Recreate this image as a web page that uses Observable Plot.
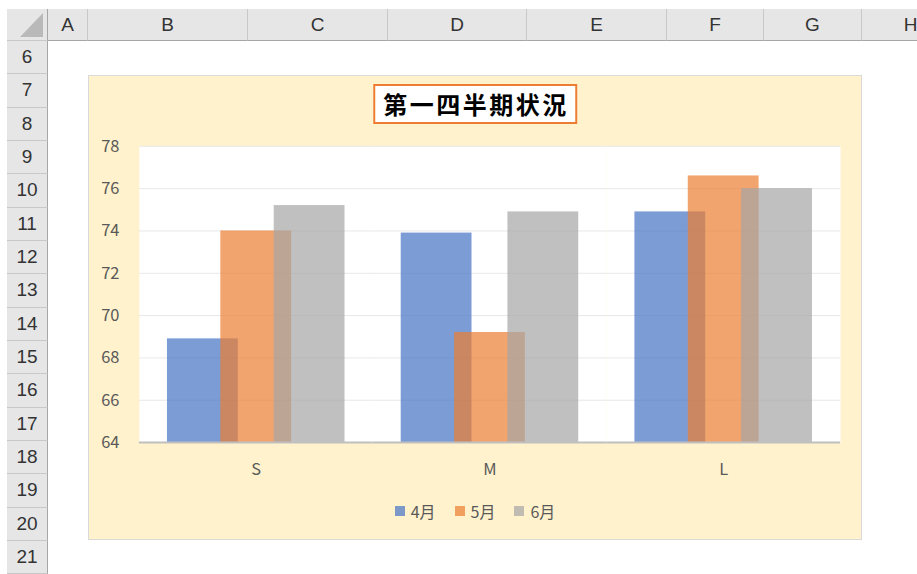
<!DOCTYPE html>
<html>
<head>
<meta charset="utf-8">
<script src="https://cdn.jsdelivr.net/npm/d3@7"></script>
<script src="https://cdn.jsdelivr.net/npm/@observablehq/plot@0.6"></script>
<style>
html,body{margin:0;padding:0;background:#fff;width:917px;height:574px;overflow:hidden;}
#sheet{position:relative;width:917px;height:574px;font-family:"Liberation Sans",Arial,sans-serif;}
.hdr{position:absolute;background:#e6e6e6;color:#333;font-size:19px;display:flex;align-items:center;justify-content:center;box-sizing:border-box;}
.colh{border-right:1px solid #c8c8c8;border-bottom:1px solid #a6a6a6;}
.rowh{border-bottom:1px solid #c8c8c8;border-right:1px solid #a6a6a6;}
#chart{position:absolute;left:88px;top:75px;width:774px;height:465px;box-sizing:border-box;border:1px solid #d9d9d9;background:#fff2cc;}
#chart svg.plot{position:absolute;left:-1px;top:-1px;}
#title{position:absolute;top:8px;left:50%;transform:translateX(-50%);background:#fff;border:2px solid #ed7d31;padding:0 6px 0 8px;font:bold 24px "Noto Sans CJK JP",sans-serif;letter-spacing:2.5px;line-height:36px;color:#000;white-space:nowrap;}
#legend{position:absolute;left:0;right:0;top:424px;display:flex;justify-content:center;font:16px "Noto Sans CJK JP",sans-serif;color:#595959;line-height:22px;}
#legend .item{display:flex;align-items:center;margin:0 9.5px;}
#legend .sw{width:10px;height:10px;margin-right:6px;opacity:0.7;}
</style>
</head>
<body>
<div id="sheet"></div>
<script>
// ---- data ----
const categories = ["S", "M", "L"];
const series = ["4月", "5月", "6月"];
const apr = [68.9, 73.9, 74.9];
const may = [74.0, 69.2, 76.6];
const jun = [75.2, 74.9, 76.0];
const yTicks = [64, 66, 68, 70, 72, 74, 76, 78];
const titleText = "第一四半期状況";
const colLetters = ["A", "B", "C", "D", "E", "F", "G", "H"];
const rowNumbers = [6, 7, 8, 9, 10, 11, 12, 13, 14, 15, 16, 17, 18, 19, 20, 21];

// ---- layout / style (not data) ----
const colEdges = [48, 88, 248, 388, 527, 667, 764, 862, 960];
const headerTop = 9, headerBottom = 41, rowHeight = 33.33, rowHeaderLeft = 7;
const seriesColors = ["#4472c4", "#ed7d31", "#a5a5a5"];

const sheet = d3.select("#sheet");

// corner cell
sheet.append("div").attr("class", "hdr colh rowh")
  .style("left", rowHeaderLeft + "px").style("top", headerTop + "px")
  .style("width", (colEdges[0] - rowHeaderLeft) + "px").style("height", (headerBottom - headerTop) + "px")
  .html('<svg width="41" height="32" style="position:absolute;left:0;top:0"><polygon points="36,4 36,28 13,28" fill="#b9b9b9"/></svg>');

// column headers
colLetters.forEach((c, i) => {
  sheet.append("div").attr("class", "hdr colh")
    .style("left", colEdges[i] + "px").style("top", headerTop + "px")
    .style("width", (colEdges[i + 1] - colEdges[i]) + "px").style("height", (headerBottom - headerTop) + "px")
    .text(c);
});

// row headers
rowNumbers.forEach((r, i) => {
  sheet.append("div").attr("class", "hdr rowh")
    .style("left", rowHeaderLeft + "px").style("top", (headerBottom + i * rowHeight) + "px")
    .style("width", (colEdges[0] - rowHeaderLeft) + "px").style("height", rowHeight + "px")
    .text(r);
});

// chart container
const chartDiv = sheet.append("div").attr("id", "chart");

const values = [apr, may, jun];
const data = categories.flatMap((c, i) => series.map((s, j) => ({cat: c, series: s, value: values[j][i]})));

const plot = Plot.plot({
  width: 774,
  height: 420,
  marginLeft: 51,
  marginRight: 20,
  marginTop: 71,
  marginBottom: 52,
  style: {background: "transparent", fontFamily: "'Noto Sans CJK JP', sans-serif", fontSize: "16px", color: "#595959", overflow: "visible"},
  fx: {domain: categories, padding: 0, round: false, label: null},
  x: {domain: series, paddingInner: 0, paddingOuter: 0.69, round: false, axis: null},
  y: {domain: [yTicks[0], yTicks[yTicks.length - 1]], label: null},
  color: {domain: series, range: seriesColors},
  marks: [
    Plot.frame({fill: "white", stroke: "none"}),
    Plot.gridY(yTicks.slice(1), {stroke: "#e8e8e8", strokeOpacity: 1, strokeWidth: 1}),
    Plot.barY(data, {fx: "cat", x: "series", y1: yTicks[0], y2: "value", fill: "series", fillOpacity: 0.7, insetLeft: -8.75, insetRight: -8.75}),
    Plot.ruleY([yTicks[0]], {stroke: "#bfbfbf", strokeWidth: 2}),
    Plot.axisY(yTicks, {tickSize: 0, tickPadding: 20, label: null, fontSize: 16.5, color: "#595959"}),
    Plot.axisFx({anchor: "bottom", tickSize: 0, tickPadding: 21, label: null, fontSize: 16.5, color: "#595959"})
  ]
});
plot.classList.add("plot");
chartDiv.node().appendChild(plot);

// title
chartDiv.append("div").attr("id", "title").text(titleText);

// legend
const colorScale = plot.scale("color");
const legend = chartDiv.append("div").attr("id", "legend");
series.forEach(s => {
  const item = legend.append("div").attr("class", "item");
  item.append("div").attr("class", "sw").style("background", colorScale.apply(s));
  item.append("span").text(s);
});
</script>
</body>
</html>
